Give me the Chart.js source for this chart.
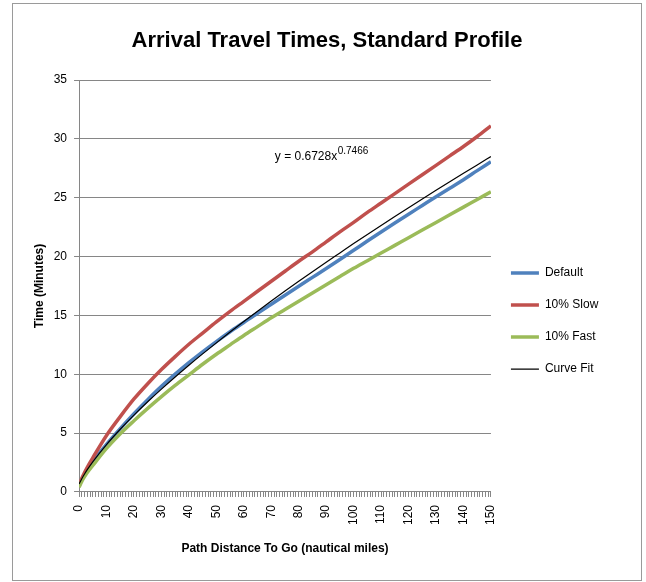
<!DOCTYPE html>
<html><head><meta charset="utf-8">
<script src="https://cdn.jsdelivr.net/npm/chart.js@4.4.1/dist/chart.umd.min.js"></script>
<style>html,body{margin:0;padding:0;background:#fff;} canvas{display:block;}</style>
</head><body>
<canvas id="c" width="646" height="582"></canvas>
<script>
const chartTitle = 'Arrival Travel Times, Standard Profile';
const xAxisTitle = 'Path Distance To Go (nautical miles)';
const yAxisTitle = 'Time (Minutes)';
const seriesNames = ['Default', '10% Slow', '10% Fast', 'Curve Fit'];
const fitEquation = 'y = 0.6728x';
const fitExponent = '0.7466';

const miles = [0,1,2,3,5,10,15,20,25,30,35,40,45,50,55,60,65,70,75,80,85,90,95,100,105,110,115,120,125,130,135,140,145,150];
const defaultTimes = [0.5,1.05,1.5,1.9,2.59,4.05,5.38,6.65,7.84,8.97,10.01,10.99,11.91,12.78,13.61,14.40,15.19,15.95,16.72,17.48,18.23,18.98,19.75,20.53,21.32,22.09,22.85,23.60,24.34,25.08,25.81,26.53,27.3,28.05];
const slowTimes = [0.5,1.15,1.65,2.1,2.9,4.8,6.4,7.9,9.2,10.4,11.5,12.55,13.5,14.45,15.35,16.2,17.05,17.9,18.75,19.6,20.4,21.25,22.1,22.9,23.75,24.55,25.35,26.15,26.95,27.75,28.55,29.35,30.2,31.1];
const fastTimes = [0.4,0.9,1.3,1.65,2.25,3.7,4.95,6.05,7.1,8.1,9.05,9.95,10.85,11.7,12.5,13.3,14.05,14.8,15.5,16.2,16.9,17.6,18.3,19.0,19.65,20.3,20.95,21.6,22.25,22.9,23.55,24.2,24.85,25.5];
const curveFitTimes = [0.673,1.129,1.528,1.894,2.564,4.031,5.332,6.532,7.662,8.736,9.768,10.765,11.730,12.669,13.587,14.483,15.360,16.220,17.065,17.897,18.715,19.522,20.312,21.102,21.877,22.643,23.401,24.152,24.893,25.626,26.354,27.075,27.788,28.494];

const yTickValues = [0,5,10,15,20,25,30,35];
const xTickLabels = [0,10,20,30,40,50,60,70,80,90,100,110,120,130,140,150];
const xMin = 0, xMax = 150;

const FONT = '"Liberation Sans", Arial, sans-serif';
const TITLE_FONT = '"Liberation Sans Narrow", "Liberation Sans", Arial, sans-serif';
const GRID = '#868686';

function fitFontSize(text, family, weight, target) {
  const c = document.createElement('canvas').getContext('2d');
  c.font = weight + ' 100px ' + family;
  return 100 * target / c.measureText(text).width;
}
const titleSize = fitFontSize(chartTitle, TITLE_FONT, 'bold', 391);
const titleLH = titleSize * 1.2;
const padTop = 8;
const titlePadTop = 41 - padTop - titleLH / 2;
const titlePadBottom = 80 - padTop - titlePadTop - titleLH;

function pts(ys) { return miles.map((m, i) => ({x: m, y: ys[i]})); }

const framePlugin = {
  id: 'frame',
  beforeDraw(chart) {
    const ctx = chart.ctx;
    ctx.save();
    ctx.fillStyle = '#fff';
    ctx.fillRect(0, 0, chart.width, chart.height);
    ctx.strokeStyle = '#9a9a9a';
    ctx.lineWidth = 1;
    ctx.strokeRect(12.5, 3.5, 629, 577);
    ctx.restore();
  }
};
const equationPlugin = {
  id: 'equation',
  afterDatasetsDraw(chart) {
    const {ctx, scales} = chart;
    const px = scales.x.getPixelForValue(71.3);
    const py = scales.y.getPixelForValue(28.2);
    ctx.save();
    ctx.fillStyle = '#000';
    ctx.textBaseline = 'alphabetic';
    ctx.textAlign = 'left';
    ctx.font = '12px ' + FONT;
    ctx.fillText(fitEquation, px, py);
    const w = ctx.measureText(fitEquation).width;
    ctx.font = '10px ' + FONT;
    ctx.fillText(fitExponent, px + w + 0.5, py - 6);
    ctx.restore();
  }
};

new Chart(document.getElementById('c'), {
  type: 'line',
  data: {
    datasets: [
      {label: seriesNames[0], data: pts(defaultTimes), borderColor: '#4F81BD', backgroundColor: '#4F81BD', borderWidth: 3.5, order: 3},
      {label: seriesNames[1], data: pts(slowTimes), borderColor: '#C0504D', backgroundColor: '#C0504D', borderWidth: 3.5, order: 2},
      {label: seriesNames[2], data: pts(fastTimes), borderColor: '#9BBB59', backgroundColor: '#9BBB59', borderWidth: 3.5, order: 1},
      {label: seriesNames[3], data: pts(curveFitTimes), borderColor: '#000000', backgroundColor: '#000000', borderWidth: 1.2, order: 0}
    ]
  },
  options: {
    responsive: false,
    animation: false,
    events: [],
    elements: {point: {radius: 0}, line: {cubicInterpolationMode: 'monotone'}},
    layout: {padding: {left: 45.7, right: 37.7, top: padTop, bottom: 21.8}},
    plugins: {
      tooltip: {enabled: false},
      title: {display: true, text: chartTitle, color: '#000', font: {family: TITLE_FONT, size: titleSize, weight: 'bold'}, padding: {top: titlePadTop, bottom: titlePadBottom}},
      legend: {
        position: 'right',
        title: {display: true, text: '', font: {size: 12}, padding: {top: 0, bottom: 59.6}},
        labels: {usePointStyle: true, pointStyle: 'line', pointStyleWidth: 28, padding: 20, color: '#000', font: {family: FONT, size: 12},
          sort: (a, b) => a.datasetIndex - b.datasetIndex}
      }
    },
    scales: {
      x: {
        type: 'linear', min: xMin, max: xMax,
        afterBuildTicks: axis => { const t = []; for (let v = xMin; v <= xMax; v++) t.push({value: v}); axis.ticks = t; },
        ticks: {autoSkip: false, maxRotation: 90, minRotation: 90, padding: 8, color: '#000', font: {family: FONT, size: 12},
          callback: v => xTickLabels.includes(v) ? String(v) : ''},
        grid: {drawOnChartArea: false, color: GRID, tickLength: 5},
        border: {color: GRID},
        title: {display: true, text: xAxisTitle, color: '#000', font: {family: FONT, size: 12, weight: 'bold'}, padding: {top: 8.8, bottom: 4}}
      },
      y: {
        min: 0, max: 35,
        afterBuildTicks: axis => { axis.ticks = yTickValues.map(v => ({value: v})); },
        ticks: {padding: 7, color: '#000', font: {family: FONT, size: 12}},
        grid: {color: GRID, tickLength: 5},
        border: {color: GRID},
        title: {display: true, text: yAxisTitle, color: '#000', font: {family: FONT, size: 12, weight: 'bold'}, padding: {top: -13.4, bottom: 0}}
      }
    }
  },
  plugins: [framePlugin, equationPlugin]
});
</script>
</body></html>
